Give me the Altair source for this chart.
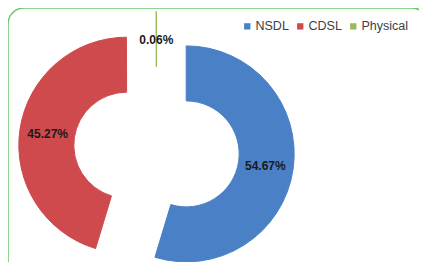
import math
import altair as alt
import pandas as pd

labels = ["NSDL", "CDSL", "Physical"]
values = [54.67, 45.27, 0.06]
text_labels = ["54.67%", "45.27%", "0.06%"]
colors = ["#4A80C6", "#CF4A4D", "#9BBB59"]

W, H = 411, 254
FRAME_W, FRAME_H = 420, 268
CX, CY = 148.5, 141.5
EXPLODE = 30
R_OUT, R_IN = 108, 53

df = pd.DataFrame({"label": labels, "value": values, "txt": text_labels, "order": list(range(len(labels)))})

theta_scale = alt.Scale(domain=[0, 100], range=[0, 2 * math.pi])

base = alt.Chart(df).transform_window(
    cum="sum(value)", sort=[alt.SortField("order")]
).transform_calculate(
    start="datum.cum - datum.value",
    midp="datum.cum - datum.value / 2",
).transform_calculate(
    mid="datum.midp / 100 * 2 * PI",
).transform_calculate(
    px=f"{CX} + {EXPLODE} * sin(datum.mid)",
    py=f"{CY} - {EXPLODE} * cos(datum.mid)",
)

color_scale = alt.Scale(domain=labels, range=colors)

arcs = base.mark_arc(outerRadius=R_OUT, innerRadius=R_IN, strokeWidth=1).encode(
    theta=alt.Theta("start:Q", scale=theta_scale),
    theta2="cum:Q",
    x=alt.X("px:Q", scale=None),
    y=alt.Y("py:Q", scale=None),
    color=alt.Color(
        "label:N",
        scale=color_scale,
        sort=labels,
        legend=alt.Legend(
            title=None,
            orient="none",
            direction="horizontal",
            legendX=233,
            legendY=12,
            symbolType="square",
            symbolSize=40,
            symbolStrokeWidth=0,
            labelFontSize=12.5,
            labelFont="Liberation Sans",
            labelColor="#404040",
            labelOffset=2,
            columnPadding=5,
        ),
    ),
    stroke=alt.Stroke("label:N", scale=color_scale, legend=None),
)

texts = base.mark_text(
    radius=80, fontSize=12, fontWeight="bold", font="Liberation Sans", color="#1a1a1a"
).encode(
    theta=alt.Theta("midp:Q", scale=theta_scale),
    x=alt.X("px:Q", scale=None),
    y=alt.Y("py:Q", scale=None),
    text="txt:N",
)

frame = alt.Chart(pd.DataFrame({"a": [0]})).mark_rect(
    filled=False, stroke="#6CC46C", strokeWidth=1.5, cornerRadius=16
).encode(
    x=alt.value(0), x2=alt.value(FRAME_W), y=alt.value(0), y2=alt.value(FRAME_H)
)

chart = alt.layer(frame, arcs, texts).properties(
    width=W, height=H, padding=0,
    autosize=alt.AutoSizeParams(type="none"),
).configure_view(strokeWidth=0)

chart.save("out.html", embed_options={"renderer": "svg", "actions": False})
